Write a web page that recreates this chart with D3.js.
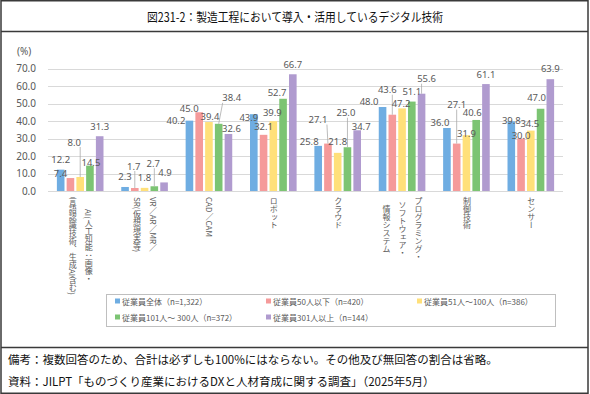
<!DOCTYPE html>
<html>
<head>
<meta charset="utf-8">
<script src="https://cdn.jsdelivr.net/npm/d3@7"></script>
<style>
  body { margin: 0; background: #fff; }
  #chart { position: relative; width: 590px; height: 394px; }
  svg { display: block; }
  .cat {
    position: absolute;
    writing-mode: vertical-rl;
    text-orientation: mixed;
    white-space: pre;
    text-align: center;
    font-family: "Noto Sans CJK JP", sans-serif;
    font-size: 8px;
    line-height: 16px;
    color: #595959;
  }
</style>
</head>
<body>
<div id="chart"></div>
<script>
const title = '図231-2：製造工程において導入・活用しているデジタル技術';
const categories = [
  ['AI(人工知能：画像・', '言語認識技術、生成AI含む)'],
  ['VR／AR／MR／', 'SR(仮想現実等)'],
  ['CAD／CAM'],
  ['ロボット'],
  ['クラウド'],
  ['プログラミング・', 'ソフトウェア・', '情報システム'],
  ['制御技術'],
  ['センサー']
];
const seriesNames = [
  '従業員全体（n=1,322）',
  '従業員50人以下（n=420）',
  '従業員51人～100人（n=386）',
  '従業員101人～ 300人（n=372）',
  '従業員301人以上（n=144）'
];
const allEmployees = [12.2, 2.3, 40.2, 43.9, 25.8, 48.0, 36.0, 39.8];
const upTo50 = [7.4, 1.7, 45.0, 32.1, 27.1, 43.6, 27.1, 30.0];
const from51to100 = [8.0, 1.8, 39.4, 39.9, 21.8, 47.2, 31.9, 34.5];
const from101to300 = [14.5, 2.7, 38.4, 52.7, 25.0, 51.1, 40.6, 47.0];
const over301 = [31.3, 4.9, 32.6, 66.7, 34.7, 55.6, 61.1, 63.9];
const seriesValues = [allEmployees, upTo50, from51to100, from101to300, over301];
const colors = ['#6fade2', '#f59a9a', '#ffe07a', '#7cc473', '#b09bcf'];
const yTicks = [0, 10, 20, 30, 40, 50, 60, 70];
const notes = [
  '備考：複数回答のため、合計は必ずしも100%にはならない。その他及び無回答の割合は省略。',
  '資料：JILPT「ものづくり産業におけるDXと人材育成に関する調査」（2025年5月）'
];

// label nudges [dx, dy, leader] per category / series (overlap avoidance as in the source)
const labelNudge = [
  [[0, 0], [-10, 5], [-6, -25, 1], [1, 7], [0, 0]],
  [[0, 0], [-1, -12, 1], [0, 0], [-1, -13, 1], [1, 0]],
  [[-13.5, 10], [-10, 6], [1, 4], [13, -16, 1], [3, 5]],
  [[-5, 13], [0, 2], [-1, 1.5], [-6, 4], [0, 0]],
  [[-9, 6], [-10, -14, 1], [0, -1], [-1.5, -24.5, 1], [4, 6]],
  [[-13.5, 4], [-5, -15, 1], [-1, 5], [0, 0], [5, -5, 1]],
  [[-7, 4], [0, -29, 1], [0, 8], [-4, 3], [0, 0]],
  [[0, 9], [0, 7], [-1, 3], [-4, -1], [0, -1]]
];

const width = 590, height = 394;
const textColor = '#595959';
const numFont = '"Noto Sans", "Noto Sans CJK JP", sans-serif';
const jpFont = '"Noto Sans CJK JP", sans-serif';

const container = d3.select('#chart');
const svg = container.append('svg')
  .attr('width', width)
  .attr('height', height)
  .attr('viewBox', [0, 0, width, height]);

// frame
svg.append('rect')
  .attr('x', 1).attr('y', 0.75)
  .attr('width', width - 3).attr('height', height - 1.5)
  .attr('fill', 'none').attr('stroke', '#3a3a3a').attr('stroke-width', 1.5);
svg.append('line')
  .attr('x1', 1).attr('x2', width - 2).attr('y1', 31.5).attr('y2', 31.5)
  .attr('stroke', '#3a3a3a').attr('stroke-width', 1.5);
svg.append('line')
  .attr('x1', 1).attr('x2', width - 2).attr('y1', 347.5).attr('y2', 347.5)
  .attr('stroke', '#3a3a3a').attr('stroke-width', 1.5);

svg.append('text')
  .attr('x', width / 2).attr('y', 16)
  .attr('text-anchor', 'middle').attr('dominant-baseline', 'central')
  .attr('font-family', jpFont).attr('font-size', 12.5)
  .attr('textLength', 296).attr('lengthAdjust', 'spacingAndGlyphs')
  .attr('fill', '#111')
  .text(title);

// scales
const x0 = d3.scaleBand()
  .domain(d3.range(categories.length))
  .range([48, 563])
  .paddingInner(0.276)
  .paddingOuter(0.138);
const x1 = d3.scaleBand()
  .domain(d3.range(seriesValues.length))
  .range([0, x0.bandwidth()])
  .paddingInner(0.22);
const y = d3.scaleLinear().domain([0, 70]).range([191, 68.5]);

// grid
svg.append('g')
  .selectAll('line')
  .data(yTicks)
  .join('line')
  .attr('x1', 48).attr('x2', 563)
  .attr('y1', (d) => Math.round(y(d)) + 0.5)
  .attr('y2', (d) => Math.round(y(d)) + 0.5)
  .attr('stroke', '#d9d9d9').attr('stroke-width', 1);

// y axis
svg.append('g')
  .attr('transform', 'translate(48,0)')
  .call(d3.axisLeft(y).tickValues(yTicks).tickFormat(d3.format('.1f')).tickSize(0).tickPadding(12))
  .call((g) => g.select('.domain').remove())
  .call((g) => g.selectAll('text')
    .attr('fill', textColor).attr('font-family', numFont).attr('font-size', 10));

svg.append('text')
  .attr('x', 17).attr('y', 51)
  .attr('dominant-baseline', 'central')
  .attr('font-family', numFont).attr('font-size', 10).attr('fill', textColor)
  .text('(%)');

// bars
const cells = [];
categories.forEach((c, ci) => {
  seriesValues.forEach((vals, si) => {
    cells.push({ ci, si, v: vals[ci], nudge: labelNudge[ci][si] });
  });
});

svg.append('g')
  .selectAll('rect')
  .data(cells)
  .join('rect')
  .attr('x', (d) => x0(d.ci) + x1(d.si))
  .attr('y', (d) => y(d.v))
  .attr('width', x1.bandwidth())
  .attr('height', (d) => y(0) - y(d.v))
  .attr('fill', (d) => colors[d.si]);

const barCx = (d) => x0(d.ci) + x1(d.si) + x1.bandwidth() / 2;
const labX = (d) => barCx(d) + d.nudge[0];
const labY = (d) => y(d.v) - 10 + d.nudge[1];

// leader lines
svg.append('g')
  .selectAll('line')
  .data(cells.filter((d) => d.nudge[2]))
  .join('line')
  .attr('x1', (d) => labX(d) - Math.sign(d.nudge[0]) * Math.min(Math.abs(d.nudge[0]), 9))
  .attr('y1', (d) => labY(d) + 5)
  .attr('x2', (d) => barCx(d))
  .attr('y2', (d) => y(d.v))
  .attr('stroke', '#a6a6a6').attr('stroke-width', 0.75);

// value labels
svg.append('g')
  .attr('font-family', numFont)
  .attr('font-size', 9.5)
  .attr('fill', textColor)
  .selectAll('text')
  .data(cells)
  .join('text')
  .attr('x', labX)
  .attr('y', labY)
  .attr('text-anchor', 'middle')
  .attr('dominant-baseline', 'central')
  .text((d) => d3.format('.1f')(d.v));

// category labels (vertical, HTML so that CJK stays upright)
container.selectAll('div.cat')
  .data(categories)
  .join('div')
  .attr('class', 'cat')
  .text((d) => d.join('\n'))
  .each(function (d, ci) {
    const w = this.offsetWidth;
    const cx = x0(ci) + x0.bandwidth() / 2;
    d3.select(this)
      .style('left', `${cx - w / 2}px`)
      .style('top', '197px');
  });

// legend
const lg = svg.append('g');
lg.append('rect')
  .attr('x', 106.5).attr('y', 294.5)
  .attr('width', 449).attr('height', 32)
  .attr('fill', 'none').attr('stroke', '#bfbfbf');
const item = lg.selectAll('g')
  .data(seriesNames)
  .join('g')
  .attr('transform', (d, i) => `translate(${115 + (i % 3) * 151},${301 + Math.floor(i / 3) * 16})`);
item.append('rect')
  .attr('x', 0).attr('y', -2.5).attr('width', 5).attr('height', 5)
  .attr('fill', (d, i) => colors[i]);
item.append('text')
  .attr('x', 7).attr('y', 0)
  .attr('dominant-baseline', 'central')
  .attr('font-family', jpFont).attr('font-size', 8).attr('fill', textColor)
  .text((d) => d);

// notes
svg.append('g')
  .selectAll('text')
  .data(notes)
  .join('text')
  .attr('x', 8)
  .attr('y', (d, i) => 359 + i * 22)
  .attr('dominant-baseline', 'central')
  .attr('font-family', jpFont).attr('font-size', 11.5).attr('fill', '#111')
  .text((d) => d);
</script>
</body>
</html>
